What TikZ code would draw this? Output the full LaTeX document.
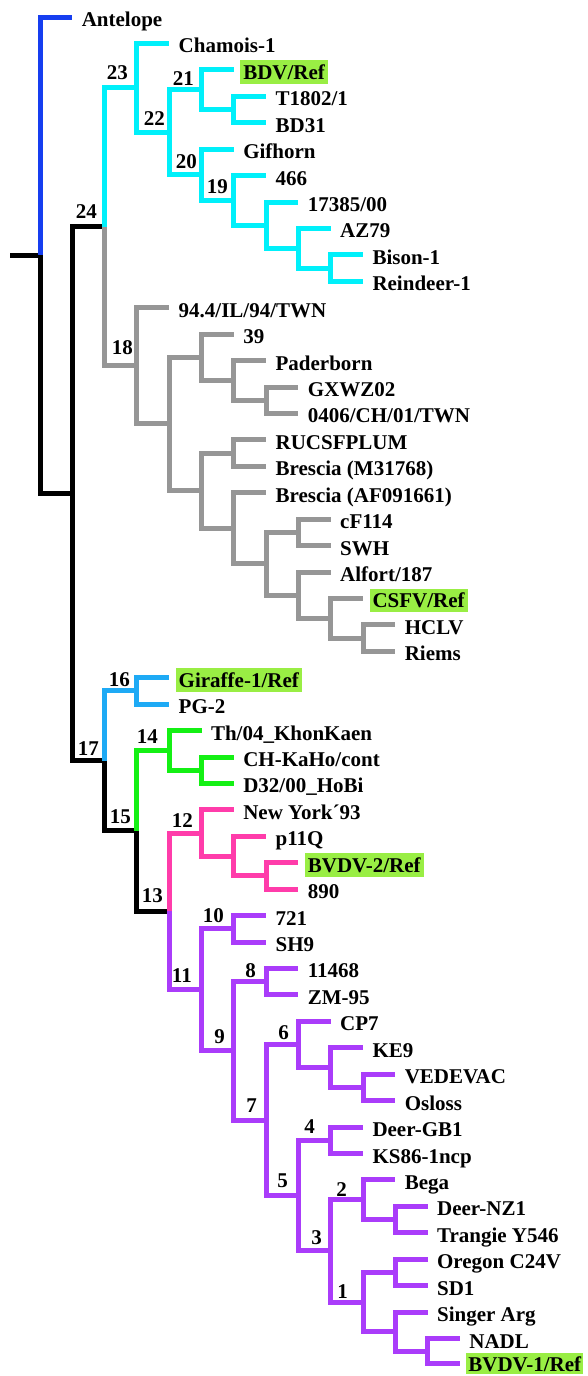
\documentclass[tikz,border=0pt]{standalone}
\usepackage{fontspec}
\setmainfont{Liberation Serif}
\definecolor{blueA}{RGB}{22,62,240}
\definecolor{cyanC}{RGB}{0,240,250}
\definecolor{grayC}{RGB}{150,150,150}
\definecolor{lblueC}{RGB}{30,170,245}
\definecolor{greenC}{RGB}{20,240,20}
\definecolor{pinkC}{RGB}{255,60,170}
\definecolor{purpleC}{RGB}{170,60,250}
\definecolor{hl}{RGB}{153,238,68}
\begin{document}
\begin{tikzpicture}[x=1pt,y=-1pt,
  br/.style={line width=5pt},
  leaf/.style={anchor=base west, xshift=4pt, yshift=-9.5pt, inner xsep=3pt, inner ysep=0pt,
    text height=19pt, text depth=4.5pt, text=black,
    font=\fontsize{21}{21}\selectfont\bfseries},
  hlt/.style={leaf, fill=hl},
  num/.style={anchor=base east, inner sep=0pt, text=black,
    font=\fontsize{21}{21}\selectfont\bfseries}]
\fill[white] (0,0) rectangle (587,1376);
\useasboundingbox (0,0) rectangle (587,1376);
% ---------- internal nodes ----------
\coordinate (rs) at (10,255.45);
\coordinate (root) at (40,255.45);
\coordinate (A) at (72.3,493.9);
\coordinate (n24) at (104.6,226.85);
\coordinate (n23) at (136.9,87.83);
\coordinate (n22) at (169.2,132.22);
\coordinate (n21) at (201.5,89.68);
\coordinate (TB) at (233.8,109.5);
\coordinate (n20) at (201.5,174.76);
\coordinate (n19) at (233.8,200.36);
\coordinate (X) at (266.1,225.14);
\coordinate (Y) at (298.4,248.26);
\coordinate (Z) at (330.7,268.09);
\coordinate (n18) at (136.9,365.86);
\coordinate (B) at (169.2,423.99);
\coordinate (C) at (201.5,357.29);
\coordinate (E) at (233.8,380.41);
\coordinate (F) at (266.1,400.24);
\coordinate (D) at (201.5,490.68);
\coordinate (G) at (233.8,453.1);
\coordinate (H) at (233.8,528.26);
\coordinate (I) at (266.1,563.77);
\coordinate (J) at (298.4,532.39);
\coordinate (K) at (298.4,595.16);
\coordinate (L) at (330.7,618.28);
\coordinate (M) at (363,638.1);
\coordinate (n17) at (104.6,760.96);
\coordinate (n16) at (136.9,690.97);
\coordinate (n15) at (136.9,830.95);
\coordinate (n14) at (169.2,750.44);
\coordinate (V) at (201.5,770.26);
\coordinate (n13) at (169.2,911.45);
\coordinate (n12) at (201.5,833.03);
\coordinate (N) at (233.8,856.15);
\coordinate (O) at (266.1,875.98);
\coordinate (n11) at (201.5,989.86);
\coordinate (n10) at (233.8,928.84);
\coordinate (n9) at (233.8,1050.88);
\coordinate (n8) at (266.1,981.7);
\coordinate (n7) at (266.1,1120.05);
\coordinate (n6) at (298.4,1044.47);
\coordinate (P) at (330.7,1067.6);
\coordinate (Q) at (363,1087.42);
\coordinate (n5) at (298.4,1195.62);
\coordinate (n4) at (330.7,1140.28);
\coordinate (n3) at (330.7,1250.96);
\coordinate (n2) at (363,1199.74);
\coordinate (R) at (395.3,1219.57);
\coordinate (n1) at (363,1302.17);
\coordinate (S) at (395.3,1272.43);
\coordinate (T) at (395.3,1331.9);
\coordinate (U) at (427.6,1351.72);
% ---------- leaf tips ----------
\coordinate (p0) at (72.3,17);
\coordinate (p1) at (169.2,43.43);
\coordinate (p2) at (233.8,69.86);
\coordinate (p3) at (266.1,96.29);
\coordinate (p4) at (266.1,122.72);
\coordinate (p5) at (233.8,149.15);
\coordinate (p6) at (266.1,175.58);
\coordinate (p7) at (298.4,202.01);
\coordinate (p8) at (330.7,228.44);
\coordinate (p9) at (363,254.87);
\coordinate (p10) at (363,281.3);
\coordinate (p11) at (169.2,307.73);
\coordinate (p12) at (233.8,334.16);
\coordinate (p13) at (266.1,360.59);
\coordinate (p14) at (298.4,387.02);
\coordinate (p15) at (298.4,413.45);
\coordinate (p16) at (266.1,439.88);
\coordinate (p17) at (266.1,466.31);
\coordinate (p18) at (266.1,492.74);
\coordinate (p19) at (330.7,519.17);
\coordinate (p20) at (330.7,545.6);
\coordinate (p21) at (330.7,572.03);
\coordinate (p22) at (363,598.46);
\coordinate (p23) at (395.3,624.89);
\coordinate (p24) at (395.3,651.32);
\coordinate (p25) at (169.2,677.75);
\coordinate (p26) at (169.2,704.18);
\coordinate (p27) at (201.5,730.61);
\coordinate (p28) at (233.8,757.04);
\coordinate (p29) at (233.8,783.47);
\coordinate (p30) at (233.8,809.9);
\coordinate (p31) at (266.1,836.33);
\coordinate (p32) at (298.4,862.76);
\coordinate (p33) at (298.4,889.19);
\coordinate (p34) at (266.1,915.62);
\coordinate (p35) at (266.1,942.05);
\coordinate (p36) at (298.4,968.48);
\coordinate (p37) at (298.4,994.91);
\coordinate (p38) at (330.7,1021.34);
\coordinate (p39) at (363,1047.77);
\coordinate (p40) at (395.3,1074.2);
\coordinate (p41) at (395.3,1100.63);
\coordinate (p42) at (363,1127.06);
\coordinate (p43) at (363,1153.49);
\coordinate (p44) at (395.3,1179.92);
\coordinate (p45) at (427.6,1206.35);
\coordinate (p46) at (427.6,1232.78);
\coordinate (p47) at (427.6,1259.21);
\coordinate (p48) at (427.6,1285.64);
\coordinate (p49) at (427.6,1312.07);
\coordinate (p50) at (459.9,1338.5);
\coordinate (p51) at (459.9,1363.5);
% ---------- root ----------
\draw[br,black] (rs) -- (root);
\draw[br,blueA] (root) |- (p0) node[leaf] (l0) {Antelope};
\draw[br,black] (root) |- (A);
\draw[br,black] (A) |- (n24);
\draw[br,black] (A) |- (n17);
% ---------- cyan clade ----------
\draw[br,cyanC] (n24) |- (n23);
\draw[br,cyanC] (n23) |- (p1) node[leaf] (l1) {Chamois-1};
\draw[br,cyanC] (n23) |- (n22);
\draw[br,cyanC] (n22) |- (n21);
\draw[br,cyanC] (n21) |- (p2) node[hlt] (l2) {BDV/Ref};
\draw[br,cyanC] (n21) |- (TB);
\draw[br,cyanC] (TB) |- (p3) node[leaf] (l3) {T1802/1};
\draw[br,cyanC] (TB) |- (p4) node[leaf] (l4) {BD31};
\draw[br,cyanC] (n22) |- (n20);
\draw[br,cyanC] (n20) |- (p5) node[leaf] (l5) {Gifhorn};
\draw[br,cyanC] (n20) |- (n19);
\draw[br,cyanC] (n19) |- (p6) node[leaf] (l6) {466};
\draw[br,cyanC] (n19) |- (X);
\draw[br,cyanC] (X) |- (p7) node[leaf] (l7) {17385/00};
\draw[br,cyanC] (X) |- (Y);
\draw[br,cyanC] (Y) |- (p8) node[leaf] (l8) {AZ79};
\draw[br,cyanC] (Y) |- (Z);
\draw[br,cyanC] (Z) |- (p9) node[leaf] (l9) {Bison-1};
\draw[br,cyanC] (Z) |- (p10) node[leaf] (l10) {Reindeer-1};
% ---------- gray clade ----------
\draw[br,grayC] (n24) |- (n18);
\draw[br,grayC] (n18) |- (p11) node[leaf] (l11) {94.4/IL/94/TWN};
\draw[br,grayC] (n18) |- (B);
\draw[br,grayC] (B) |- (C);
\draw[br,grayC] (C) |- (p12) node[leaf] (l12) {39};
\draw[br,grayC] (C) |- (E);
\draw[br,grayC] (E) |- (p13) node[leaf] (l13) {Paderborn};
\draw[br,grayC] (E) |- (F);
\draw[br,grayC] (F) |- (p14) node[leaf] (l14) {GXWZ02};
\draw[br,grayC] (F) |- (p15) node[leaf] (l15) {0406/CH/01/TWN};
\draw[br,grayC] (B) |- (D);
\draw[br,grayC] (D) |- (G);
\draw[br,grayC] (G) |- (p16) node[leaf] (l16) {RUCSFPLUM};
\draw[br,grayC] (G) |- (p17) node[leaf] (l17) {Brescia (M31768)};
\draw[br,grayC] (D) |- (H);
\draw[br,grayC] (H) |- (p18) node[leaf] (l18) {Brescia (AF091661)};
\draw[br,grayC] (H) |- (I);
\draw[br,grayC] (I) |- (J);
\draw[br,grayC] (J) |- (p19) node[leaf] (l19) {cF114};
\draw[br,grayC] (J) |- (p20) node[leaf] (l20) {SWH};
\draw[br,grayC] (I) |- (K);
\draw[br,grayC] (K) |- (p21) node[leaf] (l21) {Alfort/187};
\draw[br,grayC] (K) |- (L);
\draw[br,grayC] (L) |- (p22) node[hlt] (l22) {CSFV/Ref};
\draw[br,grayC] (L) |- (M);
\draw[br,grayC] (M) |- (p23) node[leaf] (l23) {HCLV};
\draw[br,grayC] (M) |- (p24) node[leaf] (l24) {Riems};
% ---------- lower clades ----------
\draw[br,lblueC] (n17) |- (n16);
\draw[br,lblueC] (n16) |- (p25) node[hlt] (l25) {Giraffe-1/Ref};
\draw[br,lblueC] (n16) |- (p26) node[leaf] (l26) {PG-2};
\draw[br,black] (n17) |- (n15);
\draw[br,greenC] (n15) |- (n14);
\draw[br,greenC] (n14) |- (p27) node[leaf] (l27) {Th/04\_KhonKaen};
\draw[br,greenC] (n14) |- (V);
\draw[br,greenC] (V) |- (p28) node[leaf] (l28) {CH-KaHo/cont};
\draw[br,greenC] (V) |- (p29) node[leaf] (l29) {D32/00\_HoBi};
\draw[br,black] (n15) |- (n13);
\draw[br,pinkC] (n13) |- (n12);
\draw[br,pinkC] (n12) |- (p30) node[leaf] (l30) {New York´93};
\draw[br,pinkC] (n12) |- (N);
\draw[br,pinkC] (N) |- (p31) node[leaf] (l31) {p11Q};
\draw[br,pinkC] (N) |- (O);
\draw[br,pinkC] (O) |- (p32) node[hlt] (l32) {BVDV-2/Ref};
\draw[br,pinkC] (O) |- (p33) node[leaf] (l33) {890};
% ---------- purple clade ----------
\draw[br,purpleC] (n13) |- (n11);
\draw[br,purpleC] (n11) |- (n10);
\draw[br,purpleC] (n10) |- (p34) node[leaf] (l34) {721};
\draw[br,purpleC] (n10) |- (p35) node[leaf] (l35) {SH9};
\draw[br,purpleC] (n11) |- (n9);
\draw[br,purpleC] (n9) |- (n8);
\draw[br,purpleC] (n8) |- (p36) node[leaf] (l36) {11468};
\draw[br,purpleC] (n8) |- (p37) node[leaf] (l37) {ZM-95};
\draw[br,purpleC] (n9) |- (n7);
\draw[br,purpleC] (n7) |- (n6);
\draw[br,purpleC] (n6) |- (p38) node[leaf] (l38) {CP7};
\draw[br,purpleC] (n6) |- (P);
\draw[br,purpleC] (P) |- (p39) node[leaf] (l39) {KE9};
\draw[br,purpleC] (P) |- (Q);
\draw[br,purpleC] (Q) |- (p40) node[leaf] (l40) {VEDEVAC};
\draw[br,purpleC] (Q) |- (p41) node[leaf] (l41) {Osloss};
\draw[br,purpleC] (n7) |- (n5);
\draw[br,purpleC] (n5) |- (n4);
\draw[br,purpleC] (n4) |- (p42) node[leaf] (l42) {Deer-GB1};
\draw[br,purpleC] (n4) |- (p43) node[leaf] (l43) {KS86-1ncp};
\draw[br,purpleC] (n5) |- (n3);
\draw[br,purpleC] (n3) |- (n2);
\draw[br,purpleC] (n2) |- (p44) node[leaf] (l44) {Bega};
\draw[br,purpleC] (n2) |- (R);
\draw[br,purpleC] (R) |- (p45) node[leaf] (l45) {Deer-NZ1};
\draw[br,purpleC] (R) |- (p46) node[leaf] (l46) {Trangie Y546};
\draw[br,purpleC] (n3) |- (n1);
\draw[br,purpleC] (n1) |- (S);
\draw[br,purpleC] (S) |- (p47) node[leaf] (l47) {Oregon C24V};
\draw[br,purpleC] (S) |- (p48) node[leaf] (l48) {SD1};
\draw[br,purpleC] (n1) |- (T);
\draw[br,purpleC] (T) |- (p49) node[leaf] (l49) {Singer Arg};
\draw[br,purpleC] (T) |- (U);
\draw[br,purpleC] (U) |- (p50) node[leaf] (l50) {NADL};
\draw[br,purpleC] (U) |- (p51) node[hlt, yshift=1.5pt, text depth=2pt, inner xsep=2pt] (l51) {BVDV-1/Ref};
% ---------- node numbers ----------
\node[num] (b24) at (97,218) {24};
\node[num] (b23) at (128,79) {23};
\node[num] (b22) at (165,125) {22};
\node[num] (b21) at (194,85) {21};
\node[num] (b20) at (197,168) {20};
\node[num] (b19) at (228,193) {19};
\node[num] (b18) at (133,354) {18};
\node[num] (b17) at (99,755) {17};
\node[num] (b16) at (130,686) {16};
\node[num] (b15) at (131,823) {15};
\node[num] (b14) at (158,743) {14};
\node[num] (b13) at (163,902) {13};
\node[num] (b12) at (193,827) {12};
\node[num] (b11) at (192,982) {11};
\node[num] (b10) at (224,922) {10};
\node[num] (b9) at (225,1043) {9};
\node[num] (b8) at (256,977) {8};
\node[num] (b7) at (257,1112) {7};
\node[num] (b6) at (289,1039) {6};
\node[num] (b5) at (288,1187) {5};
\node[num] (b4) at (315,1133) {4};
\node[num] (b3) at (322,1244) {3};
\node[num] (b2) at (347,1196) {2};
\node[num] (b1) at (348,1298) {1};
\end{tikzpicture}
\end{document}
